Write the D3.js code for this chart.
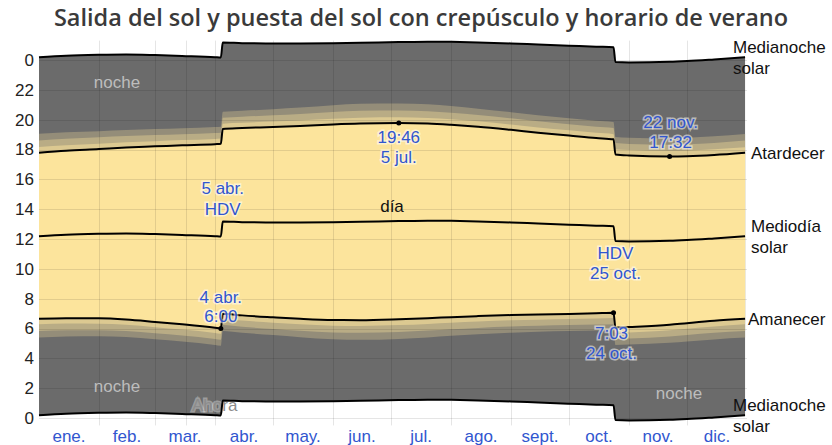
<!DOCTYPE html>
<html>
<head>
<meta charset="utf-8">
<script src="https://cdn.jsdelivr.net/npm/d3@7"></script>
<style>
  body { margin: 0; background: #fff; }
  text { font-family: "Liberation Sans", Arial, sans-serif; }
</style>
</head>
<body>
<div id="chart"></div>
<script>
// clock times (hours), DST jumps included
const dates = [
  "2020-01-01", "2020-01-15", "2020-02-01", "2020-02-15", "2020-03-01", "2020-03-15",
  "2020-04-01", "2020-04-04", "2020-04-05", "2020-04-15", "2020-05-01", "2020-05-15",
  "2020-06-01", "2020-06-15", "2020-07-05", "2020-07-20", "2020-08-01", "2020-08-15",
  "2020-09-01", "2020-09-15", "2020-10-01", "2020-10-15", "2020-10-24", "2020-10-25",
  "2020-11-01", "2020-11-22", "2020-12-01", "2020-12-15", "2020-12-31",
];
const sunrise = [
  6.65, 6.69, 6.68, 6.60, 6.44, 6.28, 6.05, 6.00, 6.99, 6.88, 6.75, 6.65,
  6.57, 6.56, 6.62, 6.69, 6.76, 6.83, 6.90, 6.94, 6.98, 7.02, 7.05, 6.06,
  6.10, 6.25, 6.36, 6.52, 6.65,
];
const sunset = [
  17.79, 17.92, 18.03, 18.13, 18.21, 18.28, 18.36, 18.38, 19.38, 19.44, 19.51, 19.58,
  19.68, 19.74, 19.77, 19.74, 19.66, 19.53, 19.32, 19.13, 18.94, 18.77, 18.68, 17.67,
  17.60, 17.533, 17.55, 17.63, 17.78,
];
const solarNoon = [
  12.18, 12.29, 12.35, 12.37, 12.33, 12.27, 12.19, 12.17, 13.17, 13.13, 13.11, 13.10,
  13.12, 13.15, 13.20, 13.23, 13.22, 13.18, 13.11, 13.04, 12.96, 12.89, 12.86, 11.86,
  11.84, 11.88, 11.93, 12.04, 12.18,
];
const solarMidnight = [
  0.18, 0.29, 0.35, 0.37, 0.33, 0.27, 0.19, 0.17, 1.17, 1.13, 1.11, 1.10,
  1.12, 1.15, 1.20, 1.23, 1.22, 1.18, 1.11, 1.04, 0.96, 0.89, 0.86, -0.14,
  -0.16, -0.12, -0.07, 0.04, 0.18,
];
// twilight length from sunrise / sunset (hours, cumulative)
const civil = [
  0.37, 0.36, 0.36, 0.35, 0.35, 0.35, 0.35, 0.35, 0.35, 0.35, 0.36, 0.37,
  0.38, 0.39, 0.39, 0.38, 0.37, 0.36, 0.35, 0.35, 0.35, 0.35, 0.35, 0.35,
  0.36, 0.37, 0.37, 0.38, 0.37,
];
const nautical = [
  0.82, 0.80, 0.79, 0.77, 0.76, 0.75, 0.75, 0.75, 0.75, 0.76, 0.78, 0.80,
  0.83, 0.85, 0.85, 0.83, 0.81, 0.79, 0.77, 0.76, 0.75, 0.76, 0.76, 0.76,
  0.77, 0.79, 0.80, 0.81, 0.82,
];
const astronomical = [
  1.26, 1.23, 1.20, 1.17, 1.16, 1.15, 1.15, 1.15, 1.15, 1.16, 1.19, 1.23,
  1.29, 1.32, 1.32, 1.29, 1.25, 1.21, 1.18, 1.16, 1.15, 1.16, 1.16, 1.16,
  1.18, 1.21, 1.23, 1.25, 1.26,
];
const monthLabels = ["ene.", "feb.", "mar.", "abr.", "may.", "jun.", "jul.", "ago.", "sept.", "oct.", "nov.", "dic."];
const hourTicks = [0, 2, 4, 6, 8, 10, 12, 14, 16, 18, 20, 22, 24];
const nowDate = "2020-03-17";

const width = 832;
const height = 445;
const parse = d3.timeParse("%Y-%m-%d");

const data = dates.map((d, i) => ({
  date: parse(d),
  rise: sunrise[i],
  set: sunset[i],
  noon: solarNoon[i],
  mid: solarMidnight[i],
  civ: civil[i],
  nau: nautical[i],
  ast: astronomical[i],
}));

const x = d3
  .scaleTime()
  .domain([new Date(2020, 0, 1), new Date(2021, 0, 1)])
  .range([39, 747]);

const y = d3.scaleLinear().domain([0, 24]).range([418, 60]);

const dayColor = "#fce49c";
const nightColor = "#6b6b6b";
const mix = d3.interpolateRgb(dayColor, nightColor);
const blue = "#3156cf";

const svg = d3
  .select("#chart")
  .append("svg")
  .attr("width", width)
  .attr("height", height);

svg
  .append("text")
  .attr("x", 421)
  .attr("y", 26)
  .attr("text-anchor", "middle")
  .attr("font-size", 23.5)
  .attr("font-weight", 600)
  .attr("fill", "#3a3a3a")
  .style("font-family", "'Open Sans', sans-serif")
  .text("Salida del sol y puesta del sol con crepúsculo y horario de verano");

const band = (lo, hi) =>
  d3
    .area()
    .curve(d3.curveMonotoneX)
    .x((d) => x(d.date))
    .y0((d) => y(lo(d)))
    .y1((d) => y(hi(d)));

const layers = [
  { fill: nightColor, lo: (d) => d.mid, hi: (d) => d.mid + 24 },
  { fill: mix(0.72), lo: (d) => d.rise - d.ast, hi: (d) => d.set + d.ast },
  { fill: mix(0.46), lo: (d) => d.rise - d.nau, hi: (d) => d.set + d.nau },
  { fill: mix(0.22), lo: (d) => d.rise - d.civ, hi: (d) => d.set + d.civ },
  { fill: dayColor, lo: (d) => d.rise, hi: (d) => d.set },
];

svg
  .append("g")
  .selectAll("path")
  .data(layers)
  .join("path")
  .attr("fill", (l) => l.fill)
  .attr("d", (l) => band(l.lo, l.hi)(data));

// grid
const grid = svg.append("g").attr("stroke", "rgba(0,0,0,0.1)").attr("stroke-width", 1);
grid
  .selectAll(".vgrid")
  .data(d3.timeMonth.range(new Date(2020, 1, 1), new Date(2020, 11, 2)).concat([parse(nowDate)]))
  .join("line")
  .attr("x1", (d) => Math.round(x(d)) + 0.5)
  .attr("x2", (d) => Math.round(x(d)) + 0.5)
  .attr("y1", y(25.3))
  .attr("y2", y(-0.5));
grid
  .selectAll(".hgrid")
  .data(hourTicks)
  .join("line")
  .attr("x1", x.range()[0])
  .attr("x2", x.range()[1])
  .attr("y1", (d) => Math.round(y(d)) + 0.5)
  .attr("y2", (d) => Math.round(y(d)) + 0.5);

// "Ahora" label
svg
  .append("text")
  .attr("x", x(parse(nowDate)) + 6)
  .attr("y", 405)
  .attr("dy", "0.35em")
  .attr("font-size", 17)
  .attr("fill", "#8c8c8c")
  .attr("stroke", "rgba(255,255,255,0.35)")
  .attr("stroke-width", 3)
  .attr("paint-order", "stroke")
  .text("Ahora");

// lines
const line = (acc) =>
  d3
    .line()
    .curve(d3.curveMonotoneX)
    .x((d) => x(d.date))
    .y((d) => y(acc(d)));

const series = [
  (d) => d.mid,
  (d) => d.mid + 24,
  (d) => d.rise,
  (d) => d.set,
  (d) => d.noon,
];
svg
  .append("g")
  .selectAll("path")
  .data(series)
  .join("path")
  .attr("fill", "none")
  .attr("stroke", "#000")
  .attr("stroke-width", 2)
  .attr("d", (acc) => line(acc)(data));

// extremes
const find = (s) => data[dates.indexOf(s)];
const marks = [
  { d: find("2020-04-04"), v: (d) => d.rise },
  { d: find("2020-10-24"), v: (d) => d.rise },
  { d: find("2020-07-05"), v: (d) => d.set },
  { d: find("2020-11-22"), v: (d) => d.set },
];
svg
  .append("g")
  .selectAll("circle")
  .data(marks)
  .join("circle")
  .attr("cx", (m) => x(m.d.date))
  .attr("cy", (m) => y(m.v(m.d)))
  .attr("r", 2.5)
  .attr("fill", "#000");

// annotations
const notes = [
  { d: find("2020-04-04"), v: (d) => d.rise, dx: 0, dy: [-31, -12], lines: ["4 abr.", "6:00"] },
  { d: find("2020-04-05"), v: (d) => d.noon, dx: 0, dy: [-33, -12], lines: ["5 abr.", "HDV"] },
  { d: find("2020-07-05"), v: (d) => d.set, dx: 0, dy: [14, 34], lines: ["19:46", "5 jul."] },
  { d: find("2020-11-22"), v: (d) => d.set, dx: 1, dy: [-34, -14], lines: ["22 nov.", "17:32"] },
  { d: find("2020-10-25"), v: (d) => d.noon, dx: 0, dy: [12, 32], lines: ["HDV", "25 oct."] },
  { d: find("2020-10-24"), v: (d) => d.rise, dx: -2, dy: [20, 40], lines: ["7:03", "24 oct."] },
];
const noteG = svg.append("g");
notes.forEach((n) => {
  n.lines.forEach((t, i) => {
    noteG
      .append("text")
      .attr("x", x(n.d.date) + n.dx)
      .attr("y", y(n.v(n.d)) + n.dy[i])
      .attr("dy", "0.35em")
      .attr("text-anchor", "middle")
      .attr("font-size", 17)
      .attr("fill", blue)
      .attr("stroke", "rgba(255,255,255,0.55)")
      .attr("stroke-width", 3)
      .attr("paint-order", "stroke")
      .text(t);
  });
});

// region labels
const regionLabels = [
  { x: 117, y: 82, text: "noche", fill: "#bdbdbd" },
  { x: 117, y: 386, text: "noche", fill: "#bdbdbd" },
  { x: 679, y: 393, text: "noche", fill: "#bdbdbd" },
  { x: 392, y: 206, text: "día", fill: "#111" },
];
svg
  .append("g")
  .selectAll("text")
  .data(regionLabels)
  .join("text")
  .attr("x", (d) => d.x)
  .attr("y", (d) => d.y)
  .attr("dy", "0.35em")
  .attr("text-anchor", "middle")
  .attr("font-size", 17)
  .attr("fill", (d) => d.fill)
  .text((d) => d.text);

// series labels at the right end
const last = data[data.length - 1];
const endLabels = [
  { v: last.mid + 24, dx: -14, lines: ["Medianoche", "solar"] },
  { v: last.set, dx: 4, lines: ["Atardecer"] },
  { v: last.noon, dx: 4, lines: ["Mediodía", "solar"] },
  { v: last.rise, dx: 1, lines: ["Amanecer"] },
  { v: last.mid, dx: -14, lines: ["Medianoche", "solar"] },
];
const endG = svg.append("g");
endLabels.forEach((l) => {
  const n = l.lines.length;
  l.lines.forEach((t, i) => {
    endG
      .append("text")
      .attr("x", x.range()[1] + l.dx)
      .attr("y", y(l.v) + (i - (n - 1) / 2) * 20.5)
      .attr("dy", "0.35em")
      .attr("font-size", 17)
      .attr("fill", "#111")
      .text(t);
  });
});

// y axis labels
svg
  .append("g")
  .selectAll("text")
  .data(hourTicks)
  .join("text")
  .attr("x", 34)
  .attr("y", (d) => y(d))
  .attr("dy", "0.35em")
  .attr("text-anchor", "end")
  .attr("font-size", 17)
  .attr("fill", "#222")
  .text((d) => d % 24);

// month labels
const months = d3.timeMonth.range(new Date(2020, 0, 1), new Date(2021, 0, 1));
svg
  .append("g")
  .selectAll("text")
  .data(months)
  .join("text")
  .attr("x", (d) => (x(d) + x(d3.timeMonth.offset(d, 1))) / 2)
  .attr("y", 436)
  .attr("dy", "0.35em")
  .attr("text-anchor", "middle")
  .attr("font-size", 17)
  .attr("fill", blue)
  .text((d, i) => monthLabels[i]);
</script>
</body>
</html>
